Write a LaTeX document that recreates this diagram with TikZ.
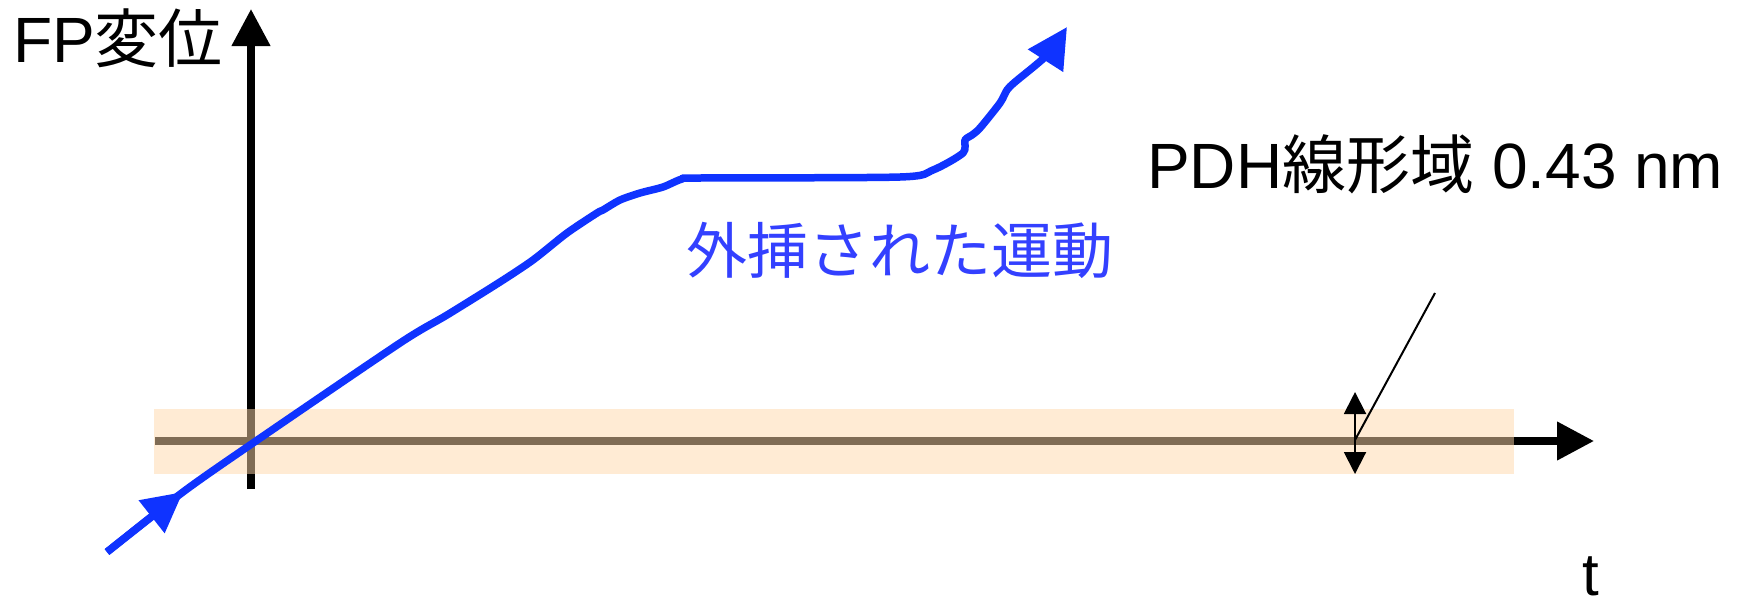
\documentclass[tikz,border=0pt]{standalone}
\usepackage{fontspec}
\setmainfont{Liberation Sans}
\newfontfamily\cjk{Noto Sans CJK JP}
\usetikzlibrary{arrows.meta}
\definecolor{curveblue}{RGB}{15,51,255}
\definecolor{textblue}{RGB}{51,64,255}
\definecolor{bandfill}{RGB}{255,216,170}
\begin{document}
\begin{tikzpicture}[x=1pt,y=-1pt,
  axis/.style={line width=7.5pt, -{Triangle[length=37pt,width=37pt]}},
  motion/.style={line width=7.5pt, draw=curveblue, line join=round},
  motiontip/.style={-{Triangle[length=40pt,width=40pt]}},
  lbl/.style={inner sep=0pt, anchor=base west, font=\fontsize{64}{76}\selectfont},
  thinline/.style={line width=2pt},
  dbltip/.style={{Triangle[length=22pt,width=22pt]}-{Triangle[length=22pt,width=22pt]}}]
\useasboundingbox (0,0) rectangle (1737,606);
% axes
\coordinate (ybot) at (251,489);
\coordinate (ytop) at (251,9);
\coordinate (xleft) at (155,441);
\coordinate (xright) at (1594,441);
\draw[axis] (ybot) -- (ytop);
\draw[axis] (xleft) -- (xright);
% linear band
\fill[bandfill, opacity=0.5] (154,409) rectangle (1514,474);
% range marker
\coordinate (rt) at (1355,392);
\coordinate (rb) at (1355,474);
\draw[thinline, dbltip] (rt) -- (rb);
\coordinate (lc) at (1355,440);
\coordinate (lt) at (1435,293);
\draw[thinline] (lc) -- (lt);
% extrapolated motion
\coordinate (ms) at (107,552);
\coordinate (mm) at (183,492);
\draw[motion, motiontip] (ms) -- (mm);
\draw[motion, motiontip] plot[smooth, tension=0.45] coordinates {
 (107,552) (183,492) (253,443) (400,343) (447,315) (500,282) (533,260)
 (567,233) (597,213) (603,210) (620,200) (640,193) (663,187) (682,179)
 (700,178) (900,177) (933,170) (963,153) (965,140) (972,135) (980,128)
 (1000,103) (1007,90) (1015,82) (1047,55) (1067,27)};
% labels
\node[lbl] (fp) at (13,62) {FP{\cjk 変位}};
\node[lbl] (pdh) at (1147,188) {PDH{\cjk 線形域} 0.43 nm};
\node[lbl, font=\fontsize{61}{72}\selectfont, text=textblue] (ext) at (686,273) {\cjk 外挿された運動};
\node[lbl, anchor=base, font=\fontsize{60}{72}\selectfont] (t) at (1591,595) {t};
\end{tikzpicture}
\end{document}
